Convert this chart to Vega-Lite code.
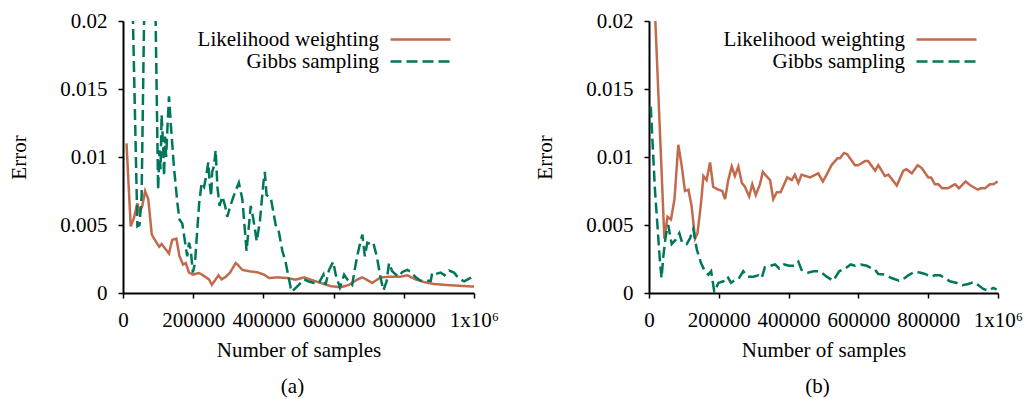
{
"$schema": "https://vega.github.io/schema/vega-lite/v6.json",
"background": "white",
"padding": {"left": 8, "top": 10, "right": 5, "bottom": 5},
"config": {
  "font": "Liberation Serif",
  "view": {"stroke": null},
  "axis": {"labelFont": "Liberation Serif", "titleFont": "Liberation Serif", "labelFontSize": 21, "titleFontSize": 21, "titleFontWeight": "normal", "labelColor": "black", "titleColor": "black", "domainColor": "black", "domainWidth": 2, "tickColor": "black", "tickWidth": 1.5, "tickSize": 5, "grid": false, "labelFlush": false, "labelPadding": 11, "labelOverlap": false},
  "legend": {"orient": "none", "legendX": 286, "legendY": 7, "symbolType": "M-3,0H3", "symbolSize": 400, "symbolStrokeWidth": 2.5, "labelFont": "Liberation Serif", "labelFontSize": 21, "labelColor": "black", "labelAlign": "right", "labelOffset": -53, "labelLimit": 400, "rowPadding": -1, "padding": 0, "title": null},
  "title": {"font": "Liberation Serif", "fontSize": 21, "fontWeight": "normal", "color": "black", "offset": 16},
  "concat": {"spacing": 35}
},
"datasets": {"d": [
{"p":"a","m":"LW","x":10000,"y":0.011},
{"p":"a","m":"LW","x":22000,"y":0.0049},
{"p":"a","m":"LW","x":31000,"y":0.0055},
{"p":"a","m":"LW","x":41000,"y":0.0066},
{"p":"a","m":"LW","x":47000,"y":0.0059},
{"p":"a","m":"LW","x":55000,"y":0.0064},
{"p":"a","m":"LW","x":63000,"y":0.0075},
{"p":"a","m":"LW","x":72000,"y":0.0069},
{"p":"a","m":"LW","x":82000,"y":0.0043},
{"p":"a","m":"LW","x":91000,"y":0.0039},
{"p":"a","m":"LW","x":103000,"y":0.0034},
{"p":"a","m":"LW","x":110000,"y":0.0036},
{"p":"a","m":"LW","x":122000,"y":0.0032},
{"p":"a","m":"LW","x":131000,"y":0.0029},
{"p":"a","m":"LW","x":140000,"y":0.0039},
{"p":"a","m":"LW","x":152000,"y":0.004},
{"p":"a","m":"LW","x":161000,"y":0.0027},
{"p":"a","m":"LW","x":171000,"y":0.0021},
{"p":"a","m":"LW","x":179000,"y":0.0022},
{"p":"a","m":"LW","x":188000,"y":0.0015},
{"p":"a","m":"LW","x":199000,"y":0.00135},
{"p":"a","m":"LW","x":217000,"y":0.00147},
{"p":"a","m":"LW","x":234000,"y":0.0012},
{"p":"a","m":"LW","x":245000,"y":0.001},
{"p":"a","m":"LW","x":253000,"y":0.0006},
{"p":"a","m":"LW","x":264000,"y":0.001},
{"p":"a","m":"LW","x":272000,"y":0.0013},
{"p":"a","m":"LW","x":281000,"y":0.001},
{"p":"a","m":"LW","x":293000,"y":0.0012},
{"p":"a","m":"LW","x":305000,"y":0.0015},
{"p":"a","m":"LW","x":321000,"y":0.0022},
{"p":"a","m":"LW","x":326000,"y":0.0021},
{"p":"a","m":"LW","x":340000,"y":0.0017},
{"p":"a","m":"LW","x":359000,"y":0.0016},
{"p":"a","m":"LW","x":383000,"y":0.00152},
{"p":"a","m":"LW","x":402000,"y":0.00135},
{"p":"a","m":"LW","x":416000,"y":0.0011},
{"p":"a","m":"LW","x":440000,"y":0.00115},
{"p":"a","m":"LW","x":468000,"y":0.0011},
{"p":"a","m":"LW","x":492000,"y":0.00098},
{"p":"a","m":"LW","x":516000,"y":0.00115},
{"p":"a","m":"LW","x":535000,"y":0.00098},
{"p":"a","m":"LW","x":563000,"y":0.00074},
{"p":"a","m":"LW","x":592000,"y":0.0005},
{"p":"a","m":"LW","x":620000,"y":0.00042},
{"p":"a","m":"LW","x":644000,"y":0.0006},
{"p":"a","m":"LW","x":668000,"y":0.001},
{"p":"a","m":"LW","x":682000,"y":0.00115},
{"p":"a","m":"LW","x":710000,"y":0.00074},
{"p":"a","m":"LW","x":734000,"y":0.00115},
{"p":"a","m":"LW","x":763000,"y":0.0012},
{"p":"a","m":"LW","x":791000,"y":0.0012},
{"p":"a","m":"LW","x":810000,"y":0.0013},
{"p":"a","m":"LW","x":834000,"y":0.001},
{"p":"a","m":"LW","x":858000,"y":0.0008},
{"p":"a","m":"LW","x":886000,"y":0.00066},
{"p":"a","m":"LW","x":915000,"y":0.0006},
{"p":"a","m":"LW","x":952000,"y":0.00054},
{"p":"a","m":"LW","x":1000000,"y":0.00047},
{"p":"a","m":"GS","x":20000,"y":0.03},
{"p":"a","m":"GS","x":41000,"y":0.0049},
{"p":"a","m":"GS","x":47000,"y":0.005},
{"p":"a","m":"GS","x":53000,"y":0.0071},
{"p":"a","m":"GS","x":63000,"y":0.0255},
{"p":"a","m":"GS","x":72000,"y":0.033},
{"p":"a","m":"GS","x":82000,"y":0.03},
{"p":"a","m":"GS","x":91000,"y":0.0235},
{"p":"a","m":"GS","x":100000,"y":0.0076},
{"p":"a","m":"GS","x":104000,"y":0.0105},
{"p":"a","m":"GS","x":107000,"y":0.0091},
{"p":"a","m":"GS","x":110000,"y":0.0131},
{"p":"a","m":"GS","x":114000,"y":0.011},
{"p":"a","m":"GS","x":117000,"y":0.0086},
{"p":"a","m":"GS","x":120000,"y":0.0115},
{"p":"a","m":"GS","x":123000,"y":0.01},
{"p":"a","m":"GS","x":126000,"y":0.0118},
{"p":"a","m":"GS","x":131000,"y":0.01446},
{"p":"a","m":"GS","x":136000,"y":0.0125},
{"p":"a","m":"GS","x":145000,"y":0.0093},
{"p":"a","m":"GS","x":155000,"y":0.0066},
{"p":"a","m":"GS","x":161000,"y":0.0054},
{"p":"a","m":"GS","x":169000,"y":0.0051},
{"p":"a","m":"GS","x":177000,"y":0.0037},
{"p":"a","m":"GS","x":183000,"y":0.0027},
{"p":"a","m":"GS","x":188000,"y":0.0037},
{"p":"a","m":"GS","x":193000,"y":0.0032},
{"p":"a","m":"GS","x":199000,"y":0.0015},
{"p":"a","m":"GS","x":205000,"y":0.0022},
{"p":"a","m":"GS","x":217000,"y":0.0066},
{"p":"a","m":"GS","x":224000,"y":0.0081},
{"p":"a","m":"GS","x":231000,"y":0.0078},
{"p":"a","m":"GS","x":237000,"y":0.0086},
{"p":"a","m":"GS","x":243000,"y":0.0096},
{"p":"a","m":"GS","x":247000,"y":0.0081},
{"p":"a","m":"GS","x":251000,"y":0.0071},
{"p":"a","m":"GS","x":254000,"y":0.0089},
{"p":"a","m":"GS","x":259000,"y":0.0093},
{"p":"a","m":"GS","x":264000,"y":0.0105},
{"p":"a","m":"GS","x":269000,"y":0.0078},
{"p":"a","m":"GS","x":275000,"y":0.0064},
{"p":"a","m":"GS","x":283000,"y":0.0071},
{"p":"a","m":"GS","x":291000,"y":0.0064},
{"p":"a","m":"GS","x":297000,"y":0.0056},
{"p":"a","m":"GS","x":307000,"y":0.0065},
{"p":"a","m":"GS","x":319000,"y":0.0074},
{"p":"a","m":"GS","x":330000,"y":0.0081},
{"p":"a","m":"GS","x":340000,"y":0.0069},
{"p":"a","m":"GS","x":352000,"y":0.0031},
{"p":"a","m":"GS","x":364000,"y":0.0064},
{"p":"a","m":"GS","x":371000,"y":0.0055},
{"p":"a","m":"GS","x":381000,"y":0.0038},
{"p":"a","m":"GS","x":390000,"y":0.0053},
{"p":"a","m":"GS","x":400000,"y":0.0081},
{"p":"a","m":"GS","x":404000,"y":0.0089},
{"p":"a","m":"GS","x":409000,"y":0.0072},
{"p":"a","m":"GS","x":421000,"y":0.007},
{"p":"a","m":"GS","x":435000,"y":0.005},
{"p":"a","m":"GS","x":444000,"y":0.0045},
{"p":"a","m":"GS","x":454000,"y":0.0031},
{"p":"a","m":"GS","x":463000,"y":0.0023},
{"p":"a","m":"GS","x":480000,"y":0.0001},
{"p":"a","m":"GS","x":487000,"y":0.00025},
{"p":"a","m":"GS","x":501000,"y":0.0006},
{"p":"a","m":"GS","x":516000,"y":0.001},
{"p":"a","m":"GS","x":527000,"y":0.00086},
{"p":"a","m":"GS","x":544000,"y":0.00074},
{"p":"a","m":"GS","x":558000,"y":0.00074},
{"p":"a","m":"GS","x":571000,"y":0.00135},
{"p":"a","m":"GS","x":577000,"y":0.0006},
{"p":"a","m":"GS","x":587000,"y":0.0017},
{"p":"a","m":"GS","x":599000,"y":0.0023},
{"p":"a","m":"GS","x":606000,"y":0.00135},
{"p":"a","m":"GS","x":618000,"y":0.0004},
{"p":"a","m":"GS","x":630000,"y":0.00135},
{"p":"a","m":"GS","x":639000,"y":0.001},
{"p":"a","m":"GS","x":653000,"y":0.0006},
{"p":"a","m":"GS","x":660000,"y":0.0017},
{"p":"a","m":"GS","x":668000,"y":0.0028},
{"p":"a","m":"GS","x":675000,"y":0.0036},
{"p":"a","m":"GS","x":682000,"y":0.0043},
{"p":"a","m":"GS","x":689000,"y":0.0027},
{"p":"a","m":"GS","x":696000,"y":0.0037},
{"p":"a","m":"GS","x":706000,"y":0.0036},
{"p":"a","m":"GS","x":713000,"y":0.0037},
{"p":"a","m":"GS","x":723000,"y":0.0027},
{"p":"a","m":"GS","x":734000,"y":0.0011},
{"p":"a","m":"GS","x":742000,"y":0.0002},
{"p":"a","m":"GS","x":751000,"y":0.00086},
{"p":"a","m":"GS","x":758000,"y":0.0022},
{"p":"a","m":"GS","x":767000,"y":0.0016},
{"p":"a","m":"GS","x":777000,"y":0.00135},
{"p":"a","m":"GS","x":786000,"y":0.0012},
{"p":"a","m":"GS","x":796000,"y":0.00155},
{"p":"a","m":"GS","x":810000,"y":0.0017},
{"p":"a","m":"GS","x":821000,"y":0.00155},
{"p":"a","m":"GS","x":834000,"y":0.00115},
{"p":"a","m":"GS","x":848000,"y":0.0009},
{"p":"a","m":"GS","x":862000,"y":0.0009},
{"p":"a","m":"GS","x":877000,"y":0.0009},
{"p":"a","m":"GS","x":881000,"y":0.0015},
{"p":"a","m":"GS","x":891000,"y":0.0014},
{"p":"a","m":"GS","x":905000,"y":0.0015},
{"p":"a","m":"GS","x":916000,"y":0.0013},
{"p":"a","m":"GS","x":929000,"y":0.00165},
{"p":"a","m":"GS","x":943000,"y":0.0015},
{"p":"a","m":"GS","x":957000,"y":0.00106},
{"p":"a","m":"GS","x":972000,"y":0.00086},
{"p":"a","m":"GS","x":986000,"y":0.00106},
{"p":"a","m":"GS","x":998000,"y":0.0012},
{"p":"b","m":"LW","x":15000,"y":0.022},
{"p":"b","m":"LW","x":44000,"y":0.004},
{"p":"b","m":"LW","x":53000,"y":0.0056},
{"p":"b","m":"LW","x":63000,"y":0.0054},
{"p":"b","m":"LW","x":73000,"y":0.0069},
{"p":"b","m":"LW","x":84000,"y":0.0109},
{"p":"b","m":"LW","x":94000,"y":0.0093},
{"p":"b","m":"LW","x":103000,"y":0.0075},
{"p":"b","m":"LW","x":113000,"y":0.0076},
{"p":"b","m":"LW","x":122000,"y":0.0064},
{"p":"b","m":"LW","x":132000,"y":0.004},
{"p":"b","m":"LW","x":139000,"y":0.0044},
{"p":"b","m":"LW","x":149000,"y":0.0066},
{"p":"b","m":"LW","x":156000,"y":0.0086},
{"p":"b","m":"LW","x":165000,"y":0.0083},
{"p":"b","m":"LW","x":175000,"y":0.0096},
{"p":"b","m":"LW","x":184000,"y":0.0078},
{"p":"b","m":"LW","x":199000,"y":0.0076},
{"p":"b","m":"LW","x":210000,"y":0.0075},
{"p":"b","m":"LW","x":218000,"y":0.0069},
{"p":"b","m":"LW","x":227000,"y":0.0083},
{"p":"b","m":"LW","x":237000,"y":0.0093},
{"p":"b","m":"LW","x":246000,"y":0.0086},
{"p":"b","m":"LW","x":256000,"y":0.0093},
{"p":"b","m":"LW","x":266000,"y":0.0081},
{"p":"b","m":"LW","x":275000,"y":0.0078},
{"p":"b","m":"LW","x":287000,"y":0.0071},
{"p":"b","m":"LW","x":296000,"y":0.008},
{"p":"b","m":"LW","x":306000,"y":0.0072},
{"p":"b","m":"LW","x":318000,"y":0.008},
{"p":"b","m":"LW","x":326000,"y":0.0089},
{"p":"b","m":"LW","x":347000,"y":0.0083},
{"p":"b","m":"LW","x":356000,"y":0.0069},
{"p":"b","m":"LW","x":366000,"y":0.0074},
{"p":"b","m":"LW","x":377000,"y":0.0074},
{"p":"b","m":"LW","x":396000,"y":0.0085},
{"p":"b","m":"LW","x":409000,"y":0.0083},
{"p":"b","m":"LW","x":418000,"y":0.0087},
{"p":"b","m":"LW","x":428000,"y":0.0081},
{"p":"b","m":"LW","x":437000,"y":0.0087},
{"p":"b","m":"LW","x":461000,"y":0.0085},
{"p":"b","m":"LW","x":485000,"y":0.0088},
{"p":"b","m":"LW","x":498000,"y":0.0082},
{"p":"b","m":"LW","x":509000,"y":0.0087},
{"p":"b","m":"LW","x":523000,"y":0.0094},
{"p":"b","m":"LW","x":540000,"y":0.0099},
{"p":"b","m":"LW","x":547000,"y":0.0099},
{"p":"b","m":"LW","x":559000,"y":0.0103},
{"p":"b","m":"LW","x":568000,"y":0.0102},
{"p":"b","m":"LW","x":590000,"y":0.0094},
{"p":"b","m":"LW","x":600000,"y":0.0094},
{"p":"b","m":"LW","x":619000,"y":0.0097},
{"p":"b","m":"LW","x":628000,"y":0.0097},
{"p":"b","m":"LW","x":648000,"y":0.009},
{"p":"b","m":"LW","x":657000,"y":0.0094},
{"p":"b","m":"LW","x":676000,"y":0.0086},
{"p":"b","m":"LW","x":686000,"y":0.0087},
{"p":"b","m":"LW","x":710000,"y":0.0079},
{"p":"b","m":"LW","x":729000,"y":0.009},
{"p":"b","m":"LW","x":738000,"y":0.0091},
{"p":"b","m":"LW","x":753000,"y":0.0088},
{"p":"b","m":"LW","x":770000,"y":0.0094},
{"p":"b","m":"LW","x":781000,"y":0.0092},
{"p":"b","m":"LW","x":800000,"y":0.0085},
{"p":"b","m":"LW","x":808000,"y":0.0085},
{"p":"b","m":"LW","x":819000,"y":0.008},
{"p":"b","m":"LW","x":829000,"y":0.008},
{"p":"b","m":"LW","x":840000,"y":0.0077},
{"p":"b","m":"LW","x":856000,"y":0.0077},
{"p":"b","m":"LW","x":877000,"y":0.008},
{"p":"b","m":"LW","x":888000,"y":0.0077},
{"p":"b","m":"LW","x":907000,"y":0.0082},
{"p":"b","m":"LW","x":922000,"y":0.0079},
{"p":"b","m":"LW","x":942000,"y":0.0076},
{"p":"b","m":"LW","x":951000,"y":0.0077},
{"p":"b","m":"LW","x":963000,"y":0.0077},
{"p":"b","m":"LW","x":977000,"y":0.008},
{"p":"b","m":"LW","x":987000,"y":0.008},
{"p":"b","m":"LW","x":999000,"y":0.0082},
{"p":"b","m":"GS","x":5000,"y":0.0137},
{"p":"b","m":"GS","x":17000,"y":0.0076},
{"p":"b","m":"GS","x":31000,"y":0.00245},
{"p":"b","m":"GS","x":36000,"y":0.0011},
{"p":"b","m":"GS","x":41000,"y":0.0027},
{"p":"b","m":"GS","x":48000,"y":0.0042},
{"p":"b","m":"GS","x":55000,"y":0.005},
{"p":"b","m":"GS","x":65000,"y":0.0036},
{"p":"b","m":"GS","x":76000,"y":0.0039},
{"p":"b","m":"GS","x":87000,"y":0.0044},
{"p":"b","m":"GS","x":95000,"y":0.0037},
{"p":"b","m":"GS","x":108000,"y":0.0036},
{"p":"b","m":"GS","x":117000,"y":0.004},
{"p":"b","m":"GS","x":127000,"y":0.0047},
{"p":"b","m":"GS","x":137000,"y":0.0032},
{"p":"b","m":"GS","x":149000,"y":0.0022},
{"p":"b","m":"GS","x":160000,"y":0.0016},
{"p":"b","m":"GS","x":170000,"y":0.00135},
{"p":"b","m":"GS","x":178000,"y":0.0016},
{"p":"b","m":"GS","x":187000,"y":0.0001},
{"p":"b","m":"GS","x":199000,"y":0.00074},
{"p":"b","m":"GS","x":213000,"y":0.00086},
{"p":"b","m":"GS","x":225000,"y":0.0012},
{"p":"b","m":"GS","x":235000,"y":0.00074},
{"p":"b","m":"GS","x":248000,"y":0.001},
{"p":"b","m":"GS","x":258000,"y":0.0011},
{"p":"b","m":"GS","x":270000,"y":0.0016},
{"p":"b","m":"GS","x":283000,"y":0.0012},
{"p":"b","m":"GS","x":299000,"y":0.0012},
{"p":"b","m":"GS","x":313000,"y":0.0013},
{"p":"b","m":"GS","x":323000,"y":0.0011},
{"p":"b","m":"GS","x":332000,"y":0.0019},
{"p":"b","m":"GS","x":347000,"y":0.002},
{"p":"b","m":"GS","x":361000,"y":0.0021},
{"p":"b","m":"GS","x":373000,"y":0.0018},
{"p":"b","m":"GS","x":387000,"y":0.0021},
{"p":"b","m":"GS","x":402000,"y":0.002},
{"p":"b","m":"GS","x":416000,"y":0.002},
{"p":"b","m":"GS","x":428000,"y":0.0023},
{"p":"b","m":"GS","x":437000,"y":0.0017},
{"p":"b","m":"GS","x":456000,"y":0.0015},
{"p":"b","m":"GS","x":471000,"y":0.0016},
{"p":"b","m":"GS","x":490000,"y":0.0016},
{"p":"b","m":"GS","x":509000,"y":0.0012},
{"p":"b","m":"GS","x":528000,"y":0.0009},
{"p":"b","m":"GS","x":545000,"y":0.0016},
{"p":"b","m":"GS","x":562000,"y":0.0018},
{"p":"b","m":"GS","x":578000,"y":0.0021},
{"p":"b","m":"GS","x":590000,"y":0.002},
{"p":"b","m":"GS","x":607000,"y":0.0021},
{"p":"b","m":"GS","x":624000,"y":0.002},
{"p":"b","m":"GS","x":648000,"y":0.0017},
{"p":"b","m":"GS","x":657000,"y":0.0014},
{"p":"b","m":"GS","x":676000,"y":0.00135},
{"p":"b","m":"GS","x":695000,"y":0.0011},
{"p":"b","m":"GS","x":716000,"y":0.0009},
{"p":"b","m":"GS","x":733000,"y":0.0011},
{"p":"b","m":"GS","x":743000,"y":0.0013},
{"p":"b","m":"GS","x":760000,"y":0.00155},
{"p":"b","m":"GS","x":776000,"y":0.0015},
{"p":"b","m":"GS","x":791000,"y":0.0014},
{"p":"b","m":"GS","x":808000,"y":0.0012},
{"p":"b","m":"GS","x":819000,"y":0.0013},
{"p":"b","m":"GS","x":834000,"y":0.0013},
{"p":"b","m":"GS","x":848000,"y":0.0011},
{"p":"b","m":"GS","x":862000,"y":0.00086},
{"p":"b","m":"GS","x":882000,"y":0.00074},
{"p":"b","m":"GS","x":898000,"y":0.00057},
{"p":"b","m":"GS","x":915000,"y":0.00066},
{"p":"b","m":"GS","x":929000,"y":0.0008},
{"p":"b","m":"GS","x":944000,"y":0.00057},
{"p":"b","m":"GS","x":958000,"y":0.0003},
{"p":"b","m":"GS","x":972000,"y":0.00018},
{"p":"b","m":"GS","x":987000,"y":0.00037},
{"p":"b","m":"GS","x":996000,"y":0.00025}
]},
"hconcat": [
{
  "width": 351, "height": 272,
  "title": {"text": "(a)", "orient": "bottom", "dx": -6},
  "data": {"name": "d"},
  "transform": [{"filter": "datum.p == 'a'"}],
  "mark": {"type": "line", "clip": true, "strokeWidth": 2.5},
  "encoding": {
    "x": {"field": "x", "type": "quantitative", "scale": {"domain": [0, 1000000], "nice": false},
          "axis": {"title": "Number of samples", "values": [0, 200000, 400000, 600000, 800000, 1000000], "labelExpr": "datum.value == 1000000 ? '1x10⁶' : format(datum.value, 'd')", "titlePadding": 9}},
    "y": {"field": "y", "type": "quantitative", "scale": {"domain": [0, 0.02], "nice": false},
          "axis": {"title": "Error", "values": [0, 0.005, 0.01, 0.015, 0.02], "format": "~g", "titlePadding": 30}},
    "color": {"field": "m", "type": "nominal", "scale": {"domain": ["LW", "GS"], "range": ["#c26a4c", "#00775a"]},
              "legend": {"labelExpr": "datum.label == 'LW' ? 'Likelihood weighting' : 'Gibbs sampling'"}},
    "strokeDash": {"field": "m", "type": "nominal", "scale": {"domain": ["LW", "GS"], "range": [[1, 0], [11, 5]]},
              "legend": {"labelExpr": "datum.label == 'LW' ? 'Likelihood weighting' : 'Gibbs sampling'"}},
    "order": {"field": "x", "type": "quantitative"}
  }
},
{
  "width": 349, "height": 272,
  "title": {"text": "(b)", "orient": "bottom", "dx": -6},
  "data": {"name": "d"},
  "transform": [{"filter": "datum.p == 'b'"}],
  "mark": {"type": "line", "clip": true, "strokeWidth": 2.5},
  "encoding": {
    "x": {"field": "x", "type": "quantitative", "scale": {"domain": [0, 1000000], "nice": false},
          "axis": {"title": "Number of samples", "values": [0, 200000, 400000, 600000, 800000, 1000000], "labelExpr": "datum.value == 1000000 ? '1x10⁶' : format(datum.value, 'd')", "titlePadding": 9}},
    "y": {"field": "y", "type": "quantitative", "scale": {"domain": [0, 0.02], "nice": false},
          "axis": {"title": "Error", "values": [0, 0.005, 0.01, 0.015, 0.02], "format": "~g", "titlePadding": 30}},
    "color": {"field": "m", "type": "nominal", "scale": {"domain": ["LW", "GS"], "range": ["#c26a4c", "#00775a"]},
              "legend": {"labelExpr": "datum.label == 'LW' ? 'Likelihood weighting' : 'Gibbs sampling'"}},
    "strokeDash": {"field": "m", "type": "nominal", "scale": {"domain": ["LW", "GS"], "range": [[1, 0], [11, 5]]},
              "legend": {"labelExpr": "datum.label == 'LW' ? 'Likelihood weighting' : 'Gibbs sampling'"}},
    "order": {"field": "x", "type": "quantitative"}
  }
}
],
"resolve": {"scale": {"color": "independent", "strokeDash": "independent"}, "legend": {"color": "independent", "strokeDash": "independent"}}
}
